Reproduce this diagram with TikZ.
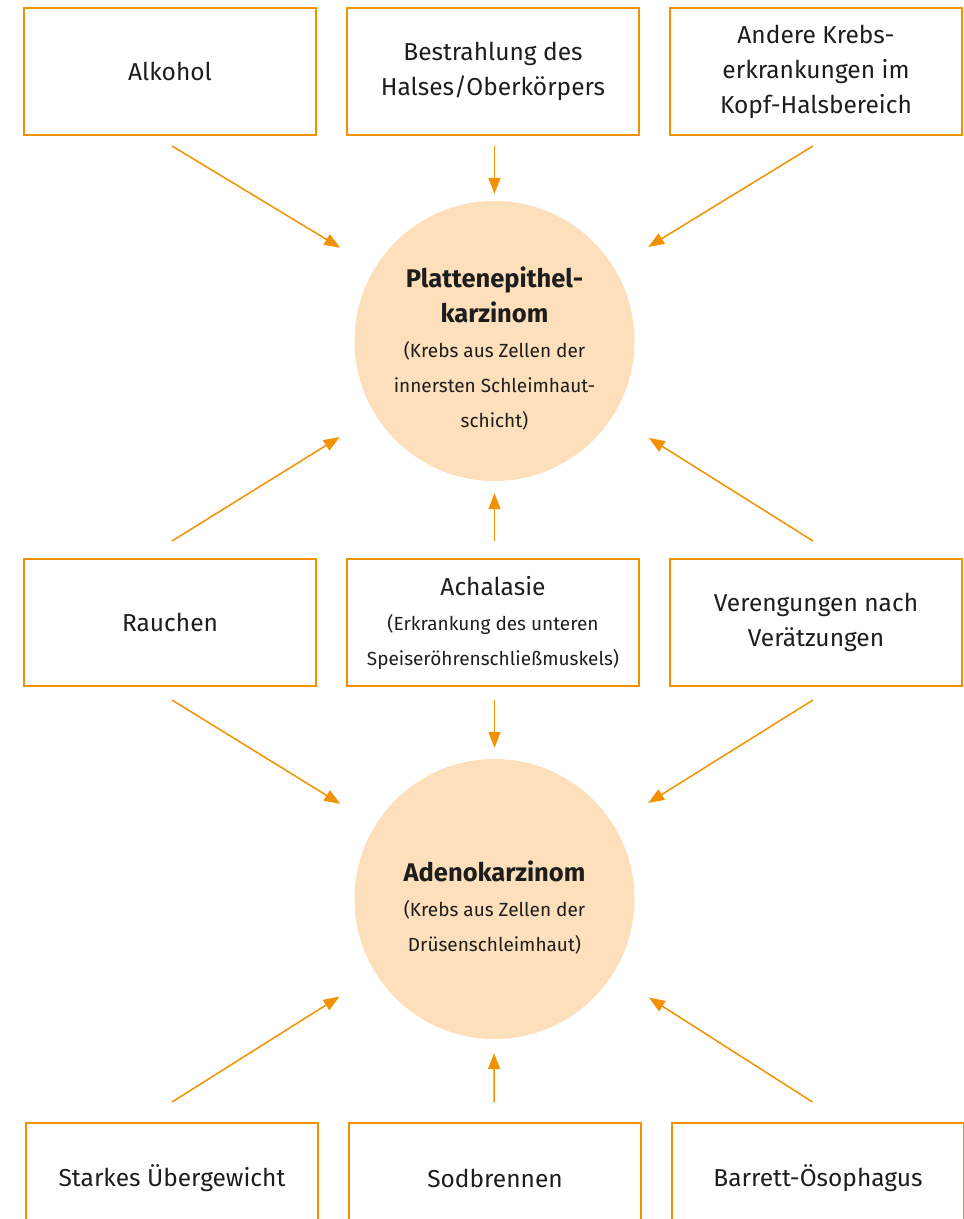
\documentclass[tikz,border=0pt]{standalone}
\usepackage{fontspec}
\setmainfont{Fira Sans}
\usetikzlibrary{arrows.meta, positioning, calc}

\definecolor{rahmen}{HTML}{F39200}
\definecolor{kreis}{HTML}{FDDFBC}
\definecolor{schrift}{HTML}{1D1D1B}
\newcommand{\gross}{\fontsize{24.5}{35}\selectfont}
\newcommand{\fett}{\fontsize{25.5}{35}\selectfont\bfseries}
\newcommand{\klein}{\fontsize{19}{32.5}\selectfont}

\begin{document}
\begin{tikzpicture}[x=1pt, y=-1pt, ->, >={Triangle[length=16pt,width=12pt]},
  every node/.style = {align=center, text=schrift, font=\gross},
  faktor/.style = {draw=rahmen, line width=1.5pt, minimum width=292pt, minimum height=127pt, inner sep=0pt, outer sep=0pt},
  unten/.style = {faktor, minimum height=110pt},
  krebs/.style = {circle, fill=kreis, minimum size=280pt, inner sep=0pt},
  pfeil/.style = {draw=rahmen, line width=1.5pt, shorten >=40pt}]
  \useasboundingbox (0,0) rectangle (964,1219);

  % Risikofaktoren oben
  \node[faktor] (alkohol) at (170,71.5) {Alkohol};
  \node[faktor, right=31pt of alkohol] (bestrahlung) {Bestrahlung des\\Halses/Oberkörpers};
  \node[faktor, right=31pt of bestrahlung] (andere) {Andere Krebs-\\erkrankungen im\\Kopf-Halsbereich};

  % Risikofaktoren Mitte
  \node[faktor] (rauchen) at (170,622.5) {Rauchen};
  \node[faktor, right=31pt of rauchen] (achalasie) {Achalasie\\{\klein (Erkrankung des unteren}\\{\klein Speiseröhrenschließmuskels)}};
  \node[faktor, right=31pt of achalasie] (verengung) {Verengungen nach\\Verätzungen};

  % Risikofaktoren unten
  \node[unten] (uebergewicht) at (172,1178) {Starkes Übergewicht};
  \node[unten, right=31pt of uebergewicht] (sodbrennen) {Sodbrennen};
  \node[unten, right=31pt of sodbrennen] (barrett) {Barrett-Ösophagus};

  % Krebsarten
  \node[krebs] (platten) at (494.5,341) {};
  \node (plattentext) at ([yshift=-8pt]platten.center) {{\fett Plattenepithel-}\\{\fett karzinom}\\{\klein (Krebs aus Zellen der}\\{\klein innersten Schleimhaut-}\\{\klein schicht)}};
  \node[krebs] (adeno) at (494.5,899) {};
  \node (adenotext) at ([yshift=-9pt]adeno.center) {{\fett Adenokarzinom}\\{\klein (Krebs aus Zellen der}\\{\klein Drüsenschleimhaut)}};

  % Pfeile
  \coordinate (s1) at ([xshift=2pt,yshift=-11pt]alkohol.south);
  \coordinate (s2) at ([xshift=1.5pt,yshift=-11pt]bestrahlung.south);
  \coordinate (s3) at ([xshift=-3pt,yshift=-11pt]andere.south);
  \coordinate (s4) at ([xshift=2pt,yshift=18pt]rauchen.north);
  \coordinate (s5) at ([xshift=1.5pt,yshift=18pt]achalasie.north);
  \coordinate (s6) at ([xshift=-3pt,yshift=18pt]verengung.north);
  \coordinate (s7) at ([xshift=2pt,yshift=-14pt]rauchen.south);
  \coordinate (s8) at ([xshift=1.5pt,yshift=-14pt]achalasie.south);
  \coordinate (s9) at ([xshift=-3pt,yshift=-14pt]verengung.south);
  \coordinate (s10) at ([yshift=21pt]uebergewicht.north);
  \coordinate (s11) at ([xshift=-1pt,yshift=21pt]sodbrennen.north);
  \coordinate (s12) at ([xshift=-5.5pt,yshift=21pt]barrett.north);

  \draw[pfeil] (s1) -- (platten);
  \draw[pfeil, shorten >=7pt] (s2) -- (platten);
  \draw[pfeil] (s3) -- (platten);
  \draw[pfeil, shorten >=42pt] (s4) -- (platten);
  \draw[pfeil, shorten >=12pt] (s5) -- (platten);
  \draw[pfeil, shorten >=42pt] (s6) -- (platten);
  \draw[pfeil, shorten >=41pt] (s7) -- (adeno);
  \draw[pfeil, shorten >=11pt] (s8) -- (adeno);
  \draw[pfeil, shorten >=41pt] (s9) -- (adeno);
  \draw[pfeil, shorten >=43pt] (s10) -- (adeno);
  \draw[pfeil, shorten >=14pt] (s11) -- (adeno);
  \draw[pfeil, shorten >=43pt] (s12) -- (adeno);
\end{tikzpicture}
\end{document}
